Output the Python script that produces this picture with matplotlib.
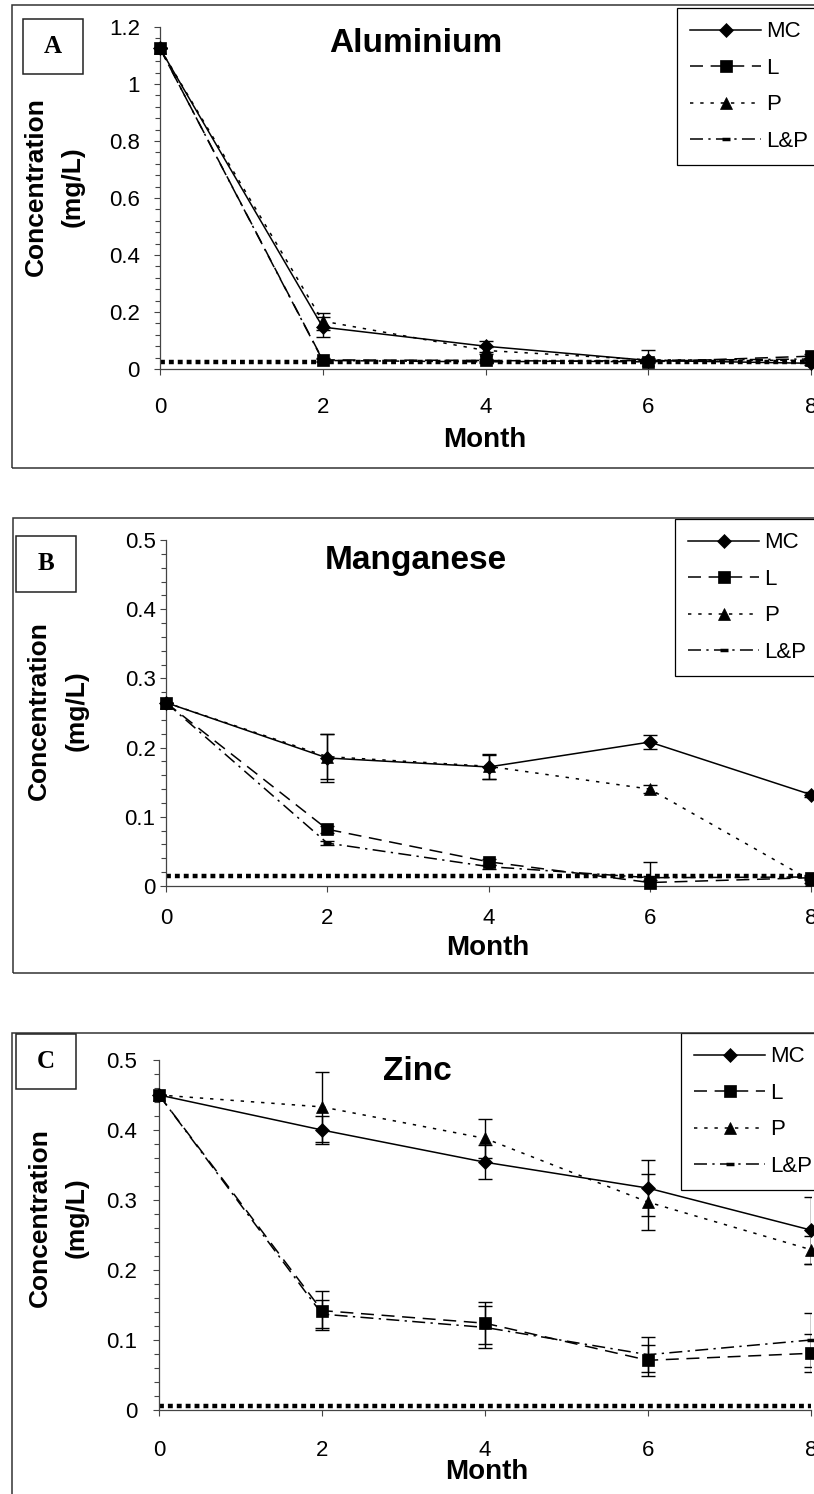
import matplotlib
matplotlib.use("Agg")
import matplotlib.pyplot as plt
import matplotlib.ticker as ticker
from matplotlib.patches import Rectangle

plt.rcParams['font.family'] = ['Liberation Sans', 'DejaVu Sans']

months = [0, 2, 4, 6, 8]
series = ["MC", "L", "P", "L&P"]

# Aluminium (mg/L)
al_mc = [1.125, 0.147, 0.080, 0.030, 0.020]
al_l = [1.125, 0.032, 0.030, 0.025, 0.045]
al_p = [1.125, 0.168, 0.065, 0.032, 0.030]
al_lp = [1.125, 0.030, 0.025, 0.030, 0.035]
al_mc_err = [0, 0.035, 0.020, 0.035, 0.005]
al_l_err = [0, 0.005, 0.005, 0.005, 0.008]
al_p_err = [0, 0.030, 0.012, 0.008, 0.005]
al_lp_err = [0, 0.004, 0.004, 0.005, 0.005]
al_limit = 0.025

# Manganese (mg/L)
mn_mc = [0.265, 0.185, 0.172, 0.208, 0.132]
mn_l = [0.265, 0.082, 0.035, 0.005, 0.012]
mn_p = [0.265, 0.187, 0.173, 0.140, 0.008]
mn_lp = [0.265, 0.062, 0.028, 0.012, 0.013]
mn_mc_err = [0, 0.035, 0.017, 0.010, 0.004]
mn_l_err = [0, 0.005, 0.004, 0.030, 0.003]
mn_p_err = [0, 0.033, 0.018, 0.006, 0.003]
mn_lp_err = [0, 0.003, 0.003, 0.003, 0.003]
mn_limit = 0.015

# Zinc (mg/L)
zn_mc = [0.450, 0.400, 0.354, 0.317, 0.257]
zn_l = [0.450, 0.142, 0.124, 0.071, 0.081]
zn_p = [0.450, 0.433, 0.388, 0.297, 0.229]
zn_lp = [0.450, 0.137, 0.118, 0.079, 0.100]
zn_mc_err = [0, 0.020, 0.024, 0.040, 0.048]
zn_l_err = [0, 0.028, 0.030, 0.022, 0.027]
zn_p_err = [0, 0.050, 0.028, 0.040, 0.020]
zn_lp_err = [0, 0.020, 0.030, 0.025, 0.039]
zn_limit = 0.006

W, H = 814, 1494
fig = plt.figure(figsize=(W / 100, H / 100), dpi=100)

styles = {
    "MC": dict(ls='-', marker='D', ms=7.5, z=3),
    "L": dict(ls=(0, (8.5, 5)), marker='s', ms=8, z=5),
    "P": dict(ls=(0, (2.2, 4.5)), marker='^', ms=9, z=4),
    "L&P": dict(ls=(0, (8.5, 3.5, 1.5, 3.5)), marker='_', ms=6, mew=2.5, z=3),
}


def px_rect(l, t, r, b):
    return [l / W, 1 - b / H, (r - l) / W, (b - t) / H]


def fx(x):
    return x / W


def fy(y):
    return 1 - y / H


def panel(letter, title, data, errs, limit, ymax, ystep,
          ax_box, frame, letter_box, title_xy, leg_xy, month_xy, ylab_xy,
          ypad, xpad):
    # outer frame and letter box
    l, t, r, b = frame
    fig.patches.append(Rectangle((fx(l), fy(b)), (r - l) / W, (b - t) / H,
                                 transform=fig.transFigure, fill=False,
                                 ec='#333333', lw=1.1))
    l, t, r, b = letter_box
    fig.patches.append(Rectangle((fx(l), fy(b)), (r - l) / W, (b - t) / H,
                                 transform=fig.transFigure, fill=False,
                                 ec='#222222', lw=1.1))
    fig.text(fx((l + r) / 2), fy((t + b) / 2), letter, ha='center', va='center',
             family='Liberation Serif', weight='bold', fontsize=18)

    ax = fig.add_axes(px_rect(*ax_box))
    ax.set_xlim(0, 8)
    ax.set_ylim(0, ymax)
    for s in ['top', 'right']:
        ax.spines[s].set_visible(False)
    for s in ['left', 'bottom']:
        ax.spines[s].set_color('#444444')
        ax.spines[s].set_linewidth(0.9)
    ax.set_xticks(months)
    ax.yaxis.set_major_locator(ticker.MultipleLocator(ystep))
    ax.yaxis.set_minor_locator(ticker.MultipleLocator(ystep / 5))
    ax.yaxis.set_major_formatter(ticker.FuncFormatter(lambda v, p: '{0:g}'.format(round(v, 3))))
    ax.tick_params(axis='y', which='major', length=4.5, width=0.8, labelsize=16,
                   pad=ypad, color='#444444')
    ax.tick_params(axis='y', which='minor', length=3.5, width=0.8, color='#444444')
    ax.tick_params(axis='x', which='major', length=4.5, width=0.8, labelsize=16,
                   pad=xpad, color='#444444')

    ax.axhline(limit, color='black', lw=3.2, ls=(0, (1.1, 0.9)),
               dash_capstyle='butt', clip_on=False, zorder=1)

    for name, y, e in zip(series, data, errs):
        st = styles[name]
        ax.errorbar(months, y, yerr=e, fmt='none', ecolor='black',
                    elinewidth=1.0, capsize=5.2, capthick=1.0, zorder=2)
        ax.plot(months, y, color='black', lw=1.1, ls=st['ls'],
                marker=st['marker'], ms=st['ms'], mew=st.get('mew', 0.5),
                mfc='black', mec='black', label=name, clip_on=False,
                zorder=st['z'])

    leg = ax.legend(loc='upper left', bbox_to_anchor=(fx(leg_xy[0]), fy(leg_xy[1])),
                    bbox_transform=fig.transFigure, borderaxespad=0,
                    fontsize=16, handlelength=3.2, handletextpad=0.2,
                    labelspacing=0.7, borderpad=0.6, fancybox=False,
                    framealpha=1, edgecolor='black')
    leg.get_frame().set_linewidth(0.9)
    leg.set_zorder(10)

    fig.text(fx(title_xy[0]), fy(title_xy[1]), title, ha='center', va='center',
             weight='bold', fontsize=24)
    fig.text(fx(month_xy[0]), fy(month_xy[1]), "Month", ha='center', va='center',
             weight='bold', fontsize=20)
    fig.text(fx(ylab_xy[0]), fy(ylab_xy[2]), "Concentration", rotation=90,
             ha='center', va='center', weight='bold', fontsize=19)
    fig.text(fx(ylab_xy[1]), fy(ylab_xy[2]), "(mg/L)", rotation=90,
             ha='center', va='center', weight='bold', fontsize=19)
    return ax


panel("A", "Aluminium",
      [al_mc, al_l, al_p, al_lp], [al_mc_err, al_l_err, al_p_err, al_lp_err],
      al_limit, 1.2, 0.2,
      ax_box=(160, 27, 811, 369), frame=(12, 5, 830, 468),
      letter_box=(23, 19, 83, 74), title_xy=(416, 43), leg_xy=(677, 8),
      month_xy=(485, 440), ylab_xy=(36, 73, 187), ypad=10, xpad=16)

panel("B", "Manganese",
      [mn_mc, mn_l, mn_p, mn_lp], [mn_mc_err, mn_l_err, mn_p_err, mn_lp_err],
      mn_limit, 0.5, 0.1,
      ax_box=(166, 540, 811, 886), frame=(13, 518, 830, 973),
      letter_box=(16, 536, 76, 592), title_xy=(416, 560), leg_xy=(675, 519),
      month_xy=(488, 948), ylab_xy=(39, 77, 711), ypad=3, xpad=11)

panel("C", "Zinc",
      [zn_mc, zn_l, zn_p, zn_lp], [zn_mc_err, zn_l_err, zn_p_err, zn_lp_err],
      zn_limit, 0.5, 0.1,
      ax_box=(159, 1060, 811, 1410), frame=(12, 1033, 830, 1510),
      letter_box=(16, 1034, 76, 1089), title_xy=(417, 1072), leg_xy=(681, 1033),
      month_xy=(487, 1472), ylab_xy=(40, 77, 1218), ypad=11, xpad=17)

fig.savefig("out.png", dpi=100)
